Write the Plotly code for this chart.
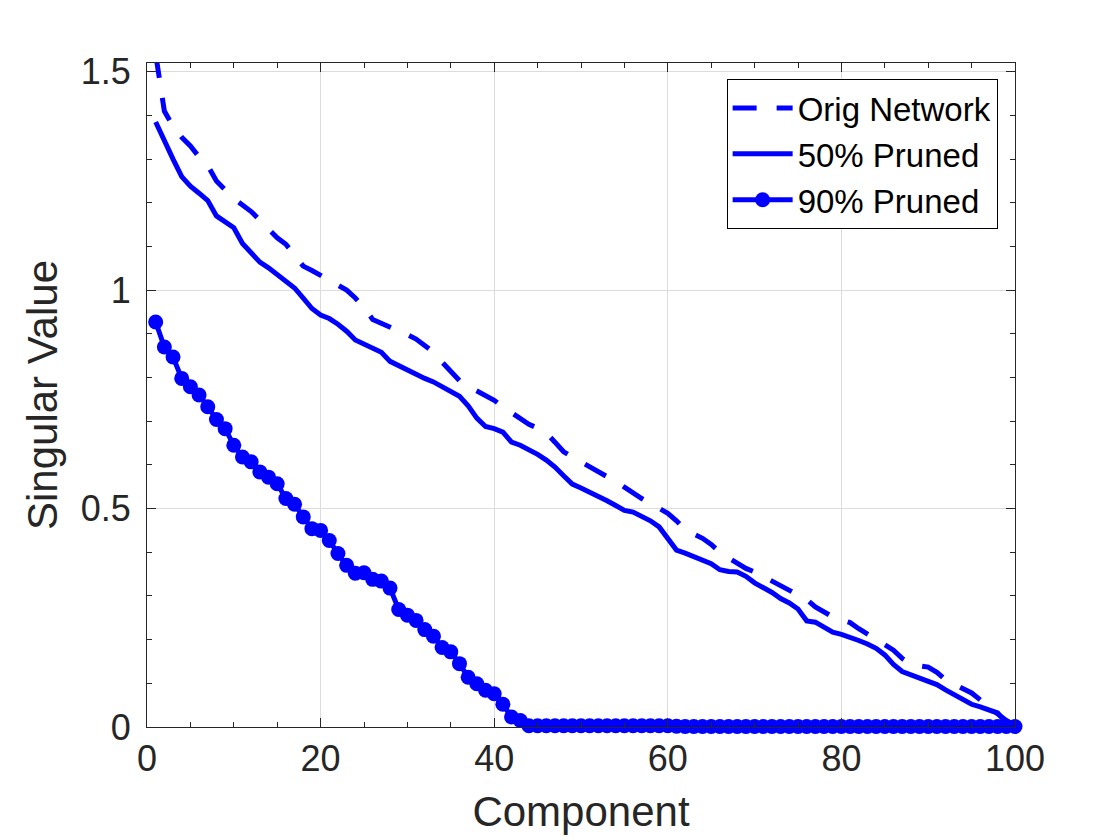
# singular value spectrum of the weight matrix, original vs pruned networks
from plotly.graph_objects import Figure, Scatter

# data (component index 1..100)
component = list(range(1, 101))

orig_network = [
    1.54, 1.41, 1.375, 1.35, 1.33, 1.305, 1.285, 1.25, 1.23, 1.21,
    1.195, 1.18, 1.16, 1.14, 1.12, 1.105, 1.08, 1.055, 1.045, 1.034,
    1.022, 1.012, 1.0, 0.982, 0.96, 0.933, 0.925, 0.917, 0.909, 0.898,
    0.888, 0.873, 0.858, 0.835, 0.812, 0.793, 0.78, 0.77, 0.76, 0.748,
    0.733, 0.72, 0.706, 0.693, 0.684, 0.673, 0.652, 0.63, 0.618, 0.607,
    0.597, 0.585, 0.574, 0.562, 0.549, 0.535, 0.523, 0.512, 0.5, 0.489,
    0.472, 0.452, 0.442, 0.432, 0.418, 0.4, 0.387, 0.374, 0.363, 0.355,
    0.345, 0.334, 0.323, 0.314, 0.303, 0.292, 0.275, 0.262, 0.252, 0.245,
    0.239, 0.225, 0.212, 0.2, 0.189, 0.176, 0.157, 0.143, 0.14, 0.137,
    0.125, 0.108, 0.098, 0.088, 0.078, 0.062, 0.045, 0.03, 0.015, 0.004,
]

pruned_50 = [
    1.385, 1.34, 1.3, 1.26, 1.238, 1.222, 1.205, 1.17, 1.158, 1.143,
    1.107, 1.087, 1.064, 1.051, 1.036, 1.022, 1.005, 0.982, 0.958, 0.943,
    0.935, 0.922, 0.906, 0.886, 0.876, 0.868, 0.858, 0.837, 0.827, 0.817,
    0.806, 0.798, 0.79, 0.78, 0.77, 0.757, 0.735, 0.707, 0.688, 0.683,
    0.675, 0.652, 0.645, 0.635, 0.624, 0.611, 0.595, 0.575, 0.556, 0.547,
    0.538, 0.529, 0.518, 0.507, 0.496, 0.492, 0.483, 0.472, 0.458, 0.432,
    0.405, 0.398, 0.389, 0.382, 0.374, 0.36, 0.356, 0.355, 0.345, 0.33,
    0.32, 0.308, 0.294, 0.284, 0.27, 0.243, 0.24, 0.228, 0.217, 0.212,
    0.206, 0.198, 0.19, 0.18, 0.165, 0.143, 0.127, 0.119, 0.112, 0.106,
    0.097, 0.085, 0.074, 0.063, 0.052, 0.046, 0.04, 0.032, 0.01, 0.001,
]

pruned_90 = [
    0.927, 0.87, 0.847, 0.798, 0.779, 0.76, 0.733, 0.704, 0.683, 0.645,
    0.618, 0.607, 0.584, 0.572, 0.557, 0.523, 0.51, 0.481, 0.454, 0.45,
    0.427, 0.397, 0.37, 0.352, 0.353, 0.338, 0.334, 0.318, 0.269, 0.256,
    0.244, 0.223, 0.208, 0.182, 0.172, 0.145, 0.114, 0.099, 0.084, 0.076,
    0.052, 0.023, 0.015, 0.003, 0.003, 0.003, 0.003, 0.003, 0.003, 0.003,
    0.003, 0.003, 0.003, 0.003, 0.003, 0.003, 0.003, 0.003, 0.003, 0.003,
    0.002, 0.001, 0.001, 0.001, 0.001, 0.001, 0.001, 0.001, 0.001, 0.001,
    0.001, 0.001, 0.001, 0.001, 0.001, 0.001, 0.001, 0.001, 0.001, 0.001,
    0.001, 0.001, 0.001, 0.001, 0.001, 0.001, 0.001, 0.001, 0.001, 0.001,
    0.001, 0.001, 0.001, 0.001, 0.001, 0.001, 0.001, 0.001, 0.001, 0.001,
]

blue = '#0000FF'
font = 'Liberation Sans, Arial, Helvetica, sans-serif'
ink = '#262626'

fig = Figure()

## add traces
fig.add_trace(Scatter(
    x=component, y=orig_network, name='Orig Network', mode='lines',
    line=dict(color=blue, width=5, dash='24px,20px'),
))
fig.add_trace(Scatter(
    x=component, y=pruned_50, name='50% Pruned', mode='lines',
    line=dict(color=blue, width=5),
))
fig.add_trace(Scatter(
    x=component, y=pruned_90, name='90% Pruned', mode='lines+markers',
    line=dict(color=blue, width=5), marker=dict(color=blue, size=15),
    cliponaxis=False,
))

## axes, MATLAB-like box with inside ticks
axis_common = dict(
    showline=True, linecolor=ink, linewidth=1, mirror='ticks',
    ticks='inside', ticklen=9, tickcolor=ink,
    showgrid=True, gridcolor='#dcdcdc', gridwidth=1,
    zeroline=False, automargin=False,
    tickfont=dict(family=font, size=36, color=ink),
)

# the page body adds 8px on the left/top, margins account for it
fig.update_layout(dict(
    width=1120,
    height=840,
    plot_bgcolor='white',
    paper_bgcolor='white',
    margin=dict(l=139, r=113, t=55, b=121),
    xaxis=dict(
        range=[0, 100], tick0=0, dtick=20,
        minor=dict(ticks='inside', ticklen=5, dtick=5, tickcolor=ink, showgrid=False),
        ticklabelstandoff=0,
        title=dict(text='Component', font=dict(family=font, size=42, color=ink), standoff=18),
        **axis_common,
    ),
    yaxis=dict(
        range=[0, 1.52], tick0=0, dtick=0.5,
        minor=dict(ticks='inside', ticklen=5, dtick=0.1, tickcolor=ink, showgrid=False),
        ticklabelstandoff=8,
        title=dict(text='Singular Value', font=dict(family=font, size=42, color=ink), standoff=10),
        **axis_common,
    ),
    legend=dict(
        x=0.98, y=0.976, xanchor='right', yanchor='top',
        bgcolor='white', bordercolor='black', borderwidth=1,
        font=dict(family=font, size=33, color='black'),
        itemwidth=60, tracegroupgap=0,
    ),
    showlegend=True,
))

fig.write_html('out.html')
